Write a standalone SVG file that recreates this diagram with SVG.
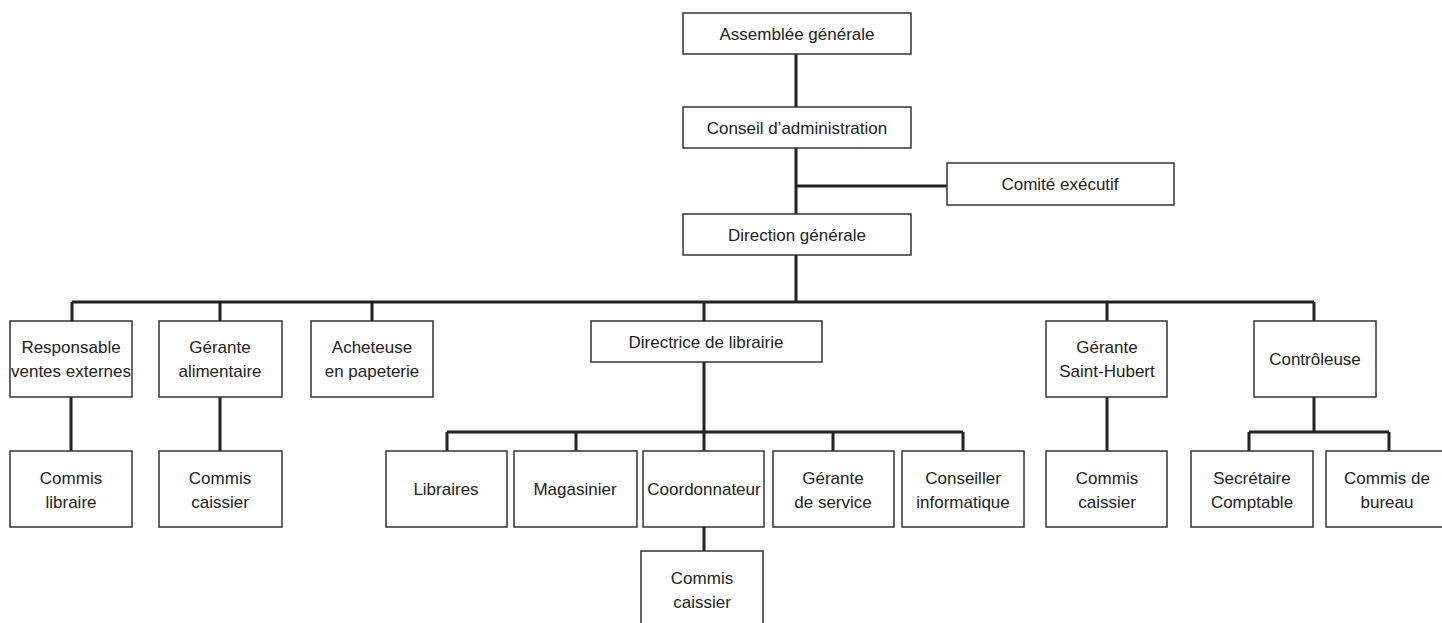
<svg xmlns="http://www.w3.org/2000/svg" width="1442" height="623" viewBox="0 0 1442 623">
<style>
.b{fill:#fff;stroke:#333;stroke-width:1.5}
.t{font-family:"Liberation Sans",Arial,sans-serif;font-size:17px;fill:#222;text-anchor:middle}
.c{stroke:#222;stroke-width:3;fill:none}
</style>
<rect width="1442" height="623" fill="#fff"/>
<g id="connectors">
<path class="c" d="M796 54V107M796 148V214M796 186H947M796 255V302M72 302H1314M72 302V321M220 302V321M372 302V321M704 302V321M1107 302V321M1314 302V321"/>
<path class="c" d="M71 397V451M220 397V451M1107 397V451"/>
<path class="c" d="M704 362V432M447 432H963M447 432V451M576 432V451M704 432V451M833 432V451M963 432V451M704 527V551"/>
<path class="c" d="M1314 397V432M1249 432H1389M1249 432V451M1389 432V451"/>
</g>
<g id="assemblee"><rect class="b" x="683" y="13" width="228" height="41"/><text class="t" x="797" y="40">Assemblée générale</text></g>
<g id="conseil"><rect class="b" x="683" y="107" width="228" height="41"/><text class="t" x="797" y="134">Conseil d’administration</text></g>
<g id="comite"><rect class="b" x="947" y="163" width="227" height="42"/><text class="t" x="1060" y="190">Comité exécutif</text></g>
<g id="direction"><rect class="b" x="683" y="214" width="228" height="41"/><text class="t" x="797" y="241">Direction générale</text></g>
<g id="responsable"><rect class="b" x="10" y="321" width="122" height="76"/><text class="t" x="71" y="353">Responsable</text><text class="t" x="71" y="377">ventes externes</text></g>
<g id="gerante-alim"><rect class="b" x="159" y="321" width="123" height="76"/><text class="t" x="220" y="353">Gérante</text><text class="t" x="220" y="377">alimentaire</text></g>
<g id="acheteuse"><rect class="b" x="311" y="321" width="122" height="76"/><text class="t" x="372" y="353">Acheteuse</text><text class="t" x="372" y="377">en papeterie</text></g>
<g id="directrice"><rect class="b" x="591" y="321" width="231" height="41"/><text class="t" x="706" y="348">Directrice de librairie</text></g>
<g id="gerante-sh"><rect class="b" x="1046" y="321" width="121" height="76"/><text class="t" x="1107" y="353">Gérante</text><text class="t" x="1107" y="377">Saint-Hubert</text></g>
<g id="controleuse"><rect class="b" x="1254" y="321" width="122" height="76"/><text class="t" x="1315" y="365">Contrôleuse</text></g>
<g id="commis-libraire"><rect class="b" x="10" y="451" width="122" height="76"/><text class="t" x="71" y="484">Commis</text><text class="t" x="71" y="508">libraire</text></g>
<g id="commis-caissier-1"><rect class="b" x="159" y="451" width="123" height="76"/><text class="t" x="220" y="484">Commis</text><text class="t" x="220" y="508">caissier</text></g>
<g id="libraires"><rect class="b" x="386" y="451" width="121" height="76"/><text class="t" x="446" y="495">Libraires</text></g>
<g id="magasinier"><rect class="b" x="514" y="451" width="123" height="76"/><text class="t" x="575" y="495">Magasinier</text></g>
<g id="coordonnateur"><rect class="b" x="643" y="451" width="121" height="76"/><text class="t" x="704" y="495">Coordonnateur</text></g>
<g id="gerante-service"><rect class="b" x="773" y="451" width="121" height="76"/><text class="t" x="833" y="484">Gérante</text><text class="t" x="833" y="508">de service</text></g>
<g id="conseiller"><rect class="b" x="902" y="451" width="122" height="76"/><text class="t" x="963" y="484">Conseiller</text><text class="t" x="963" y="508">informatique</text></g>
<g id="commis-caissier-2"><rect class="b" x="641" y="551" width="122" height="76"/><text class="t" x="702" y="584">Commis</text><text class="t" x="702" y="608">caissier</text></g>
<g id="commis-caissier-3"><rect class="b" x="1046" y="451" width="121" height="76"/><text class="t" x="1107" y="484">Commis</text><text class="t" x="1107" y="508">caissier</text></g>
<g id="secretaire"><rect class="b" x="1191" y="451" width="122" height="76"/><text class="t" x="1252" y="484">Secrétaire</text><text class="t" x="1252" y="508">Comptable</text></g>
<g id="commis-bureau"><rect class="b" x="1326" y="451" width="122" height="76"/><text class="t" x="1387" y="484">Commis de</text><text class="t" x="1387" y="508">bureau</text></g>
</svg>
